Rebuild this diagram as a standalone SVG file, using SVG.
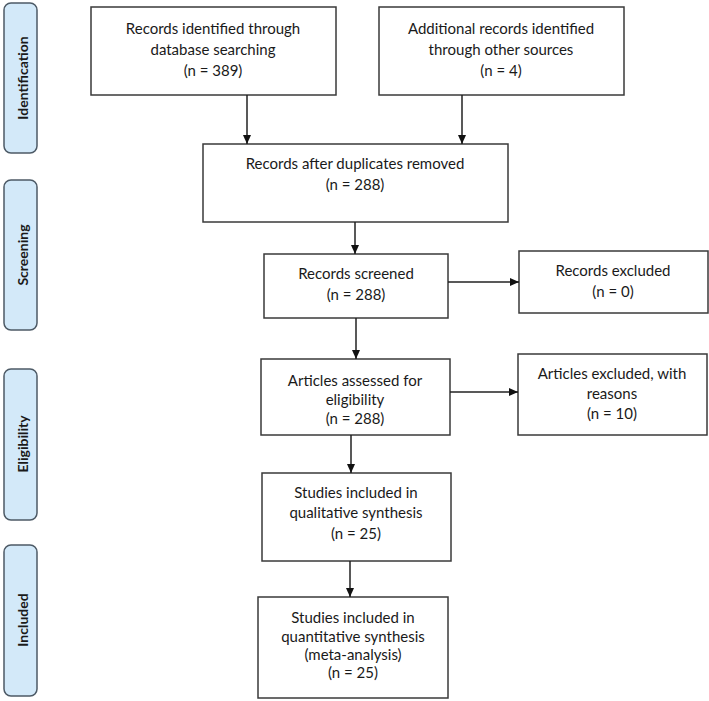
<svg xmlns="http://www.w3.org/2000/svg" width="709" height="701" viewBox="0 0 709 701">
<style>
.box{fill:#fff;stroke:#3a3a3a;stroke-width:1.5}
.side{fill:#d3e9f9;stroke:#4d5a66;stroke-width:1.5}
.t{font-family:Lato,"Liberation Sans",sans-serif;font-size:15px;fill:#1a1a1a;text-anchor:middle}
.s{font-family:Lato,"Liberation Sans",sans-serif;font-size:14px;font-weight:bold;fill:#1a1a1a;text-anchor:middle}
.c{stroke:#222;stroke-width:1.5;fill:none;marker-end:url(#ah)}
</style>
<defs>
<marker id="ah" markerWidth="10" markerHeight="8" refX="9" refY="4" orient="auto" markerUnits="userSpaceOnUse">
<path d="M0,0 L9,4 L0,8 Z" fill="#111"/>
</marker>
</defs>
<g id="phase-identification"><rect class="side" x="4" y="3" width="33" height="150" rx="7"/><text class="s" transform="translate(28,78) rotate(-90)">Identification</text></g>
<g id="phase-screening"><rect class="side" x="4" y="180" width="33" height="150" rx="7"/><text class="s" transform="translate(28,255) rotate(-90)">Screening</text></g>
<g id="phase-eligibility"><rect class="side" x="4" y="369" width="33" height="151" rx="7"/><text class="s" transform="translate(28,444) rotate(-90)">Eligibility</text></g>
<g id="phase-included"><rect class="side" x="4" y="545" width="33" height="151" rx="7"/><text class="s" transform="translate(28,620) rotate(-90)">Included</text></g>

<g id="n-database"><rect class="box" x="91" y="7" width="245" height="88"/>
<text class="t" x="213" y="34">Records identified through</text><text class="t" x="213" y="55">database searching</text><text class="t" x="213" y="76">(n = 389)</text></g>
<g id="n-other"><rect class="box" x="379" y="7" width="245" height="88"/>
<text class="t" x="501" y="34">Additional records identified</text><text class="t" x="501" y="55">through other sources</text><text class="t" x="501" y="76">(n = 4)</text></g>
<g id="n-duplicates"><rect class="box" x="203" y="144" width="305" height="78"/>
<text class="t" x="355" y="169">Records after duplicates removed</text><text class="t" x="355" y="190">(n = 288)</text></g>
<g id="n-screened"><rect class="box" x="264" y="254" width="184" height="64"/>
<text class="t" x="356" y="279">Records screened</text><text class="t" x="356" y="300">(n = 288)</text></g>
<g id="n-rec-excluded"><rect class="box" x="519" y="251" width="189" height="62"/>
<text class="t" x="613" y="276">Records excluded</text><text class="t" x="613" y="297">(n = 0)</text></g>
<g id="n-assessed"><rect class="box" x="261" y="359" width="189" height="76"/>
<text class="t" x="355" y="386">Articles assessed for</text><text class="t" x="355" y="405">eligibility</text><text class="t" x="355" y="424">(n = 288)</text></g>
<g id="n-art-excluded"><rect class="box" x="518" y="354" width="189" height="81"/>
<text class="t" x="612" y="379">Articles excluded, with</text><text class="t" x="612" y="399">reasons</text><text class="t" x="612" y="419">(n = 10)</text></g>
<g id="n-qualitative"><rect class="box" x="262" y="473" width="189" height="88"/>
<text class="t" x="356" y="498">Studies included in</text><text class="t" x="356" y="518">qualitative synthesis</text><text class="t" x="356" y="539">(n = 25)</text></g>
<g id="n-quantitative"><rect class="box" x="258" y="597" width="190" height="101"/>
<text class="t" x="353" y="623">Studies included in</text><text class="t" x="353" y="642">quantitative synthesis</text><text class="t" x="353" y="660">(meta-analysis)</text><text class="t" x="353" y="678">(n = 25)</text></g>

<g id="connectors">
<line class="c" x1="247" y1="95" x2="247" y2="144"/>
<line class="c" x1="462" y1="95" x2="462" y2="144"/>
<line class="c" x1="355" y1="222" x2="355" y2="254"/>
<line class="c" x1="448" y1="282" x2="519" y2="282"/>
<line class="c" x1="356" y1="318" x2="356" y2="359"/>
<line class="c" x1="450" y1="392" x2="518" y2="392"/>
<line class="c" x1="351" y1="435" x2="351" y2="473"/>
<line class="c" x1="350" y1="561" x2="350" y2="597"/>
</g>
</svg>
